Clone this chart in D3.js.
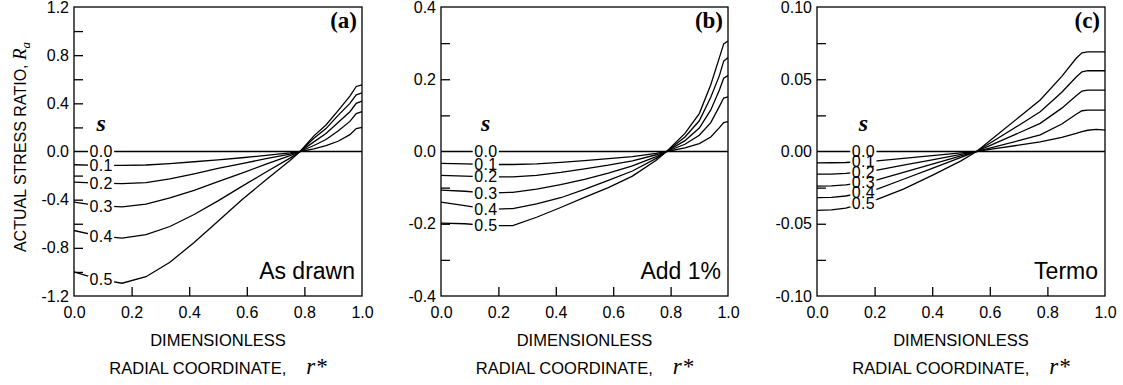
<!DOCTYPE html>
<html>
<head>
<meta charset="utf-8">
<script src="https://cdn.jsdelivr.net/npm/d3@7"></script>
<style>
  body { margin: 0; background: #fff; }
  svg { display: block; }
  text { font-family: "Liberation Sans", Arial, sans-serif; fill: #000; }
</style>
</head>
<body>
<script>
'use strict';

// curve labels (parameter s)
const sLabels = ["0.0", "0.1", "0.2", "0.3", "0.4", "0.5"];

// x axis
const xTickValues = [0.2, 0.4, 0.6, 0.8];
const xLabelValues = [0, 0.2, 0.4, 0.6, 0.8, 1.0];
const xLabels = ["0.0", "0.2", "0.4", "0.6", "0.8", "1.0"];

// panel (a) "As drawn"
const rA = [0, 0.083, 0.167, 0.25, 0.333, 0.417, 0.5, 0.583, 0.667, 0.75, 0.785, 0.833, 0.875, 0.917, 0.958, 0.98, 1.0];
const a00 = [0, 0, 0, 0, 0, 0, 0, 0, 0, 0, 0, 0, 0, 0, 0, 0, 0];
const a01 = [-0.11, -0.115, -0.116, -0.112, -0.10, -0.085, -0.07, -0.052, -0.033, -0.012, 0, 0.022, 0.048, 0.085, 0.14, 0.19, 0.2];
const a02 = [-0.255, -0.262, -0.266, -0.258, -0.228, -0.185, -0.14, -0.10, -0.06, -0.022, 0, 0.05, 0.1, 0.17, 0.25, 0.315, 0.332];
const a03 = [-0.42, -0.45, -0.46, -0.437, -0.385, -0.322, -0.25, -0.18, -0.105, -0.035, 0, 0.08, 0.15, 0.24, 0.33, 0.40, 0.418];
const a04 = [-0.656, -0.70, -0.72, -0.69, -0.623, -0.523, -0.41, -0.29, -0.17, -0.055, 0, 0.11, 0.19, 0.30, 0.40, 0.47, 0.487];
const a05 = [-1.0, -1.06, -1.094, -1.04, -0.92, -0.755, -0.58, -0.40, -0.235, -0.075, 0, 0.13, 0.22, 0.34, 0.46, 0.54, 0.554];
const yTicksA = [-1.0, -0.8, -0.6, -0.4, -0.2, 0.2, 0.4, 0.6, 0.8, 1.0];
const yLabelValuesA = [-1.2, -0.8, -0.4, 0, 0.4, 0.8, 1.2];
const yLabelsA = ["-1.2", "-0.8", "-0.4", "0.0", "0.4", "0.8", "1.2"];

// panel (b) "Add 1%"
const rB = [0, 0.083, 0.167, 0.25, 0.333, 0.417, 0.5, 0.583, 0.667, 0.75, 0.786, 0.85, 0.9, 0.94, 0.97, 0.985, 1.0];
const b00 = [0, 0, 0, 0, 0, 0, 0, 0, 0, 0, 0, 0, 0, 0, 0, 0, 0];
const b01 = [-0.033, -0.034, -0.036, -0.036, -0.034, -0.03, -0.025, -0.02, -0.014, -0.005, 0, 0.01, 0.022, 0.04, 0.066, 0.08, 0.083];
const b02 = [-0.066, -0.068, -0.07, -0.07, -0.066, -0.058, -0.048, -0.038, -0.026, -0.009, 0, 0.02, 0.045, 0.08, 0.125, 0.148, 0.151];
const b03 = [-0.107, -0.11, -0.115, -0.113, -0.104, -0.092, -0.077, -0.06, -0.04, -0.014, 0, 0.03, 0.065, 0.115, 0.17, 0.203, 0.21];
const b04 = [-0.14, -0.15, -0.16, -0.158, -0.145, -0.128, -0.105, -0.08, -0.054, -0.019, 0, 0.04, 0.085, 0.15, 0.21, 0.25, 0.26];
const b05 = [-0.198, -0.2, -0.205, -0.205, -0.182, -0.155, -0.127, -0.1, -0.068, -0.024, 0, 0.05, 0.105, 0.185, 0.26, 0.298, 0.306];
const yTicksB = [-0.3, -0.2, -0.1, 0.1, 0.2, 0.3];
const yLabelValuesB = [-0.4, -0.2, 0, 0.2, 0.4];
const yLabelsB = ["-0.4", "-0.2", "0.0", "0.2", "0.4"];

// panel (c) "Termo"
const rC = [0, 0.05, 0.1, 0.2, 0.3, 0.4, 0.5, 0.554, 0.6, 0.7, 0.775, 0.85, 0.9, 0.92, 0.94, 0.97, 1.0];
const c00 = [0, 0, 0, 0, 0, 0, 0, 0, 0, 0, 0, 0, 0, 0, 0, 0, 0];
const c01 = [-0.0079, -0.0078, -0.0076, -0.0066, -0.0047, -0.0029, -0.001, 0, 0.0014, 0.0044, 0.0066, 0.0098, 0.0125, 0.0138, 0.0147, 0.0153, 0.0148];
const c02 = [-0.0157, -0.0156, -0.0152, -0.0133, -0.0095, -0.0058, -0.002, 0, 0.0023, 0.0075, 0.0115, 0.019, 0.0258, 0.0282, 0.0286, 0.0286, 0.0286];
const c03 = [-0.024, -0.0238, -0.0231, -0.0202, -0.0145, -0.0088, -0.0031, 0, 0.004, 0.0128, 0.0195, 0.03, 0.0385, 0.0418, 0.0425, 0.0425, 0.0425];
const c04 = [-0.0319, -0.0317, -0.0308, -0.0268, -0.0192, -0.0117, -0.0041, 0, 0.0057, 0.018, 0.0275, 0.041, 0.0515, 0.0552, 0.0559, 0.0559, 0.0559];
const c05 = [-0.0407, -0.0404, -0.0392, -0.0338, -0.026, -0.0165, -0.0065, 0, 0.0074, 0.0235, 0.0356, 0.052, 0.0645, 0.0683, 0.069, 0.069, 0.069];
const yTicksC = [-0.075, -0.05, -0.025, 0.025, 0.05, 0.075];
const yLabelValuesC = [-0.1, -0.05, 0, 0.05, 0.1];
const yLabelsC = ["-0.10", "-0.05", "0.00", "0.05", "0.10"];

const svgContainer = d3.select('body').append('svg')
  .attr('width', 1123)
  .attr('height', 385);

const plotTop = 7, plotBottom = 296;

const panels = [
  { left: 74, right: 362, r: rA, curves: [a00, a01, a02, a03, a04, a05], yDomain: [-1.2, 1.2],
    yTicks: yTicksA, yLabelValues: yLabelValuesA, yLabels: yLabelsA, labelR: 0.094, tag: "(a)", note: "As drawn" },
  { left: 441, right: 728, r: rB, curves: [b00, b01, b02, b03, b04, b05], yDomain: [-0.4, 0.4],
    yTicks: yTicksB, yLabelValues: yLabelValuesB, yLabels: yLabelsB, labelR: 0.156, tag: "(b)", note: "Add 1%" },
  { left: 817, right: 1105, r: rC, curves: [c00, c01, c02, c03, c04, c05], yDomain: [-0.1, 0.1],
    yTicks: yTicksC, yLabelValues: yLabelValuesC, yLabels: yLabelsC, labelR: 0.161, tag: "(c)", note: "Termo" }
];

panels.forEach(drawPanel);
drawYTitle();

function drawPanel(p) {
  let g = svgContainer.append('g');

  let xScale = d3.scaleLinear().domain([0, 1]).range([p.left, p.right]);
  let yScale = d3.scaleLinear().domain(p.yDomain).range([plotBottom, plotTop]);

  // curves
  let line = d3.line()
    .x((d) => xScale(d[0]))
    .y((d) => yScale(d[1]));

  p.curves.forEach((vals) => {
    g.append('path')
      .datum(p.r.map((r, i) => [r, vals[i]]))
      .attr('d', line)
      .attr('fill', 'none')
      .attr('stroke', '#000')
      .attr('stroke-width', 1.3);
  });

  // inside ticks, left axis
  g.append('g')
    .attr('transform', `translate(${p.left},0)`)
    .call(d3.axisLeft(yScale).tickValues(p.yTicks).tickSizeInner(-9).tickSizeOuter(0).tickFormat(''))
    .call((s) => s.select('.domain').remove())
    .selectAll('line').attr('stroke-width', 1.3);

  // left axis labels
  g.append('g')
    .attr('transform', `translate(${p.left},0)`)
    .call(d3.axisLeft(yScale).tickValues(p.yLabelValues).tickSize(0).tickPadding(5)
      .tickFormat((d, i) => p.yLabels[i]))
    .call((s) => s.select('.domain').remove())
    .call((s) => s.attr('font-family', null).attr('font-size', null))
    .selectAll('text')
      .style('font-size', '16px');

  // inside ticks, bottom axis
  g.append('g')
    .attr('transform', `translate(0,${plotBottom})`)
    .call(d3.axisBottom(xScale).tickValues(xTickValues).tickSizeInner(-9).tickSizeOuter(0).tickFormat(''))
    .call((s) => s.select('.domain').remove())
    .selectAll('line').attr('stroke-width', 1.3);

  // bottom axis labels
  g.append('g')
    .attr('transform', `translate(0,${plotBottom})`)
    .call(d3.axisBottom(xScale).tickValues(xLabelValues).tickSize(0).tickPadding(11)
      .tickFormat((d, i) => xLabels[i]))
    .call((s) => s.select('.domain').remove())
    .call((s) => s.attr('font-family', null).attr('font-size', null))
    .selectAll('text')
      .style('font-size', '16px');

  // frame
  g.append('rect')
    .attr('x', p.left)
    .attr('y', plotTop)
    .attr('width', p.right - p.left)
    .attr('height', plotBottom - plotTop)
    .attr('fill', 'none')
    .attr('stroke', '#000')
    .attr('stroke-width', 1.3);

  // curve labels with white gap behind
  let lx = xScale(p.labelR);
  p.curves.forEach((vals, i) => {
    let at = d3.scaleLinear().domain(p.r).range(vals);
    let ly = yScale(at(p.labelR));
    let lg = g.append('g');
    let bg = lg.append('rect').attr('fill', '#fff');
    let t = lg.append('text')
      .attr('x', lx)
      .attr('y', ly)
      .attr('dy', '0.36em')
      .attr('text-anchor', 'middle')
      .style('font-size', '16px')
      .style('letter-spacing', '0.3px')
      .text(sLabels[i]);
    let bb = t.node().getBBox();
    bg.attr('x', bb.x - 1.5)
      .attr('y', ly - 4)
      .attr('width', bb.width + 3)
      .attr('height', 8);
  });

  // "s" heading above labels
  g.append('text')
    .attr('x', lx)
    .attr('y', 131)
    .attr('text-anchor', 'middle')
    .style('font-family', '"Liberation Serif", "Times New Roman", serif')
    .style('font-style', 'italic')
    .style('font-weight', 'bold')
    .style('font-size', '24px')
    .text('s');

  // panel tag
  g.append('text')
    .attr('x', p.right - 5)
    .attr('y', 28)
    .attr('text-anchor', 'end')
    .style('font-family', '"Liberation Serif", "Times New Roman", serif')
    .style('font-weight', 'bold')
    .style('font-size', '23px')
    .text(p.tag);

  // case note
  g.append('text')
    .attr('x', p.right - 7)
    .attr('y', 279)
    .attr('text-anchor', 'end')
    .style('font-size', '23px')
    .text(p.note);

  // x axis title
  let cx = (p.left + p.right) / 2;
  g.append('text')
    .attr('x', cx)
    .attr('y', 345.5)
    .attr('text-anchor', 'middle')
    .style('font-size', '16.5px')
    .text('DIMENSIONLESS');

  let t2 = g.append('text')
    .attr('x', cx)
    .attr('y', 374)
    .attr('text-anchor', 'middle')
    .style('font-size', '16.5px');
  t2.append('tspan').text('RADIAL COORDINATE,');
  t2.append('tspan')
    .attr('dx', 20)
    .style('font-family', '"Liberation Serif", "Times New Roman", serif')
    .style('font-style', 'italic')
    .style('font-size', '23px')
    .text('r*');
}

// y axis title for panel (a)
function drawYTitle() {
  let t = svgContainer.append('text')
    .attr('transform', 'translate(26,147)rotate(-90)')
    .attr('text-anchor', 'middle')
    .style('font-size', '16px');
  t.append('tspan').text('ACTUAL STRESS RATIO, ');
  t.append('tspan')
    .style('font-family', '"Liberation Serif", "Times New Roman", serif')
    .style('font-style', 'italic')
    .style('font-size', '19px')
    .text('R');
  t.append('tspan')
    .attr('dy', 4)
    .style('font-family', '"Liberation Serif", "Times New Roman", serif')
    .style('font-style', 'italic')
    .style('font-size', '13px')
    .text('a');
}
</script>
</body>
</html>
